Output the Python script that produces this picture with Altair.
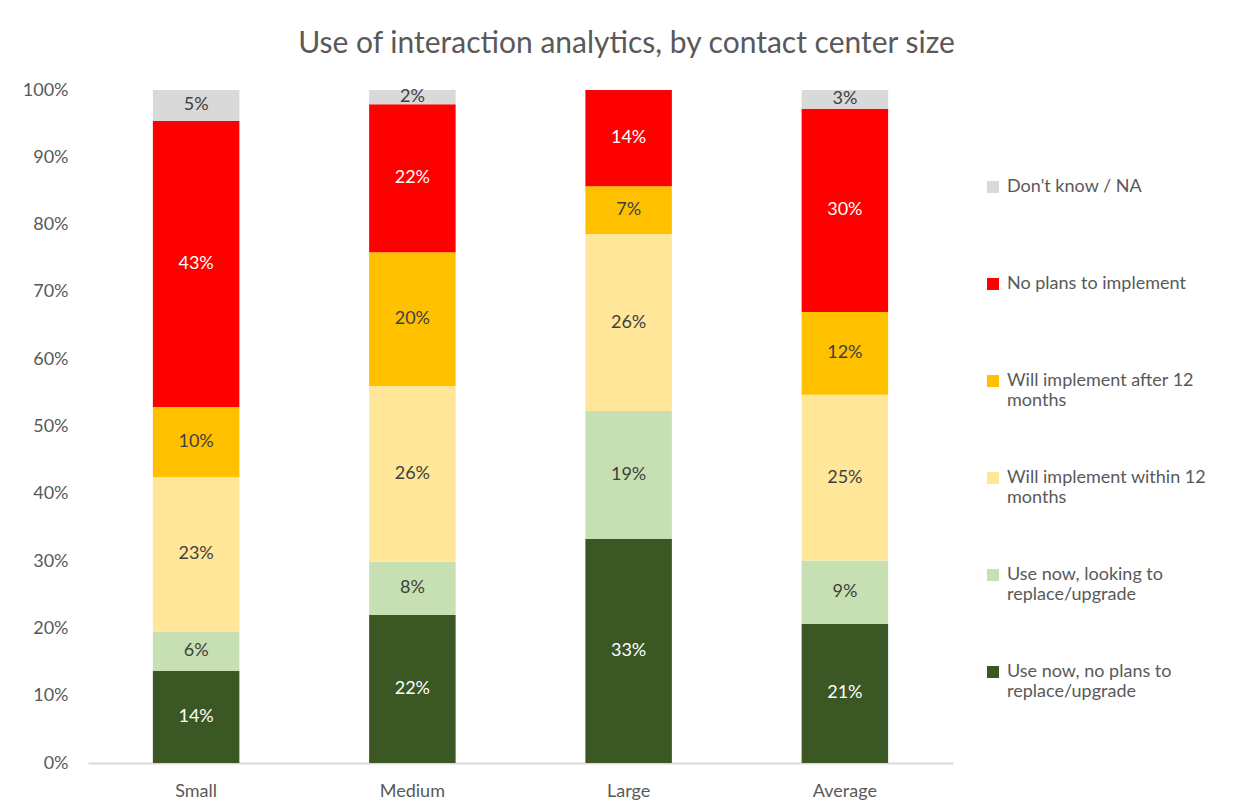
import altair as alt
import pandas as pd
import json

categories = ["Small", "Medium", "Large", "Average"]
series_names = [
    "Use now, no plans to replace/upgrade",
    "Use now, looking to replace/upgrade",
    "Will implement within 12 months",
    "Will implement after 12 months",
    "No plans to implement",
    "Don't know / NA",
]
use_no_plans = [13.7, 22.0, 33.3, 20.7]
use_replace = [5.8, 7.9, 19.0, 9.4]
within_12 = [23.0, 26.1, 26.3, 24.6]
after_12 = [10.4, 19.9, 7.1, 12.3]
no_plans = [42.5, 22.0, 14.3, 30.2]
dont_know = [4.6, 2.1, 0.0, 2.8]
colors = ["#3A5724", "#C6E0B4", "#FFE699", "#FFC000", "#FF0000", "#D9D9D9"]
label_colors = ["white", "#404040", "#404040", "#404040", "white", "#404040"]
legend_lines = {
    "Don't know / NA": ["Don't know / NA", " "],
    "No plans to implement": ["No plans to implement", " "],
    "Will implement after 12 months": ["Will implement after 12", "months"],
    "Will implement within 12 months": ["Will implement within 12", "months"],
    "Use now, looking to replace/upgrade": ["Use now, looking to", "replace/upgrade"],
    "Use now, no plans to replace/upgrade": ["Use now, no plans to", "replace/upgrade"],
}

all_values = [use_no_plans, use_replace, within_12, after_12, no_plans, dont_know]
rows = []
for si, (name, vals) in enumerate(zip(series_names, all_values)):
    for ci, cat in enumerate(categories):
        rows.append({"cat": cat, "series": name, "value": vals[ci], "order": si,
                     "lc": label_colors[si]})
df = pd.DataFrame(rows)

font = "Lato"
grey = "#595959"
fs = 18

expr = "datum.label"
for k, v in legend_lines.items():
    expr = f"datum.label == {json.dumps(k)} ? {json.dumps(v)} : ({expr})"

color_scale = alt.Scale(domain=series_names[::-1], range=colors[::-1])

base = alt.Chart(df).transform_stack(
    stack="value", groupby=["cat"], as_=["y0", "y1"], sort=[alt.SortField("order", "ascending")]
).transform_calculate(ymid="(datum.y0 + datum.y1) / 2")

x_enc = alt.X("cat:N", sort=categories, title=None,
              scale=alt.Scale(paddingInner=0.6, paddingOuter=0.3),
              axis=alt.Axis(labelAngle=0, ticks=False, domainColor="#D9D9D9", domainWidth=2,
                            labelFont=font, labelFontSize=fs, labelColor=grey, labelPadding=19))

bars = base.mark_bar().encode(
    x=x_enc,
    y=alt.Y("y0:Q", scale=alt.Scale(domain=[0, 100]), title=None,
            axis=alt.Axis(values=list(range(0, 101, 10)), labelExpr="datum.value + '%'",
                          grid=False, ticks=False, domain=False, labelFont=font,
                          labelFontSize=fs, labelColor=grey, labelPadding=20)),
    y2="y1:Q",
    color=alt.Color("series:N", scale=color_scale, sort=series_names[::-1], title=None,
                    legend=alt.Legend(orient="none", legendX=896, legendY=88,
                                      labelExpr=expr, labelFont=font, labelFontSize=fs,
                                      labelColor=grey, symbolType="square", symbolSize=144,
                                      symbolStrokeWidth=0, rowPadding=59, labelOffset=5,
                                      labelLimit=300)),
)

labels = base.transform_filter("datum.value > 0").transform_calculate(
    txt="format(datum.value, '.0f') + '%'"
).mark_text(font=font, fontSize=fs).encode(
    x=alt.X("cat:N", sort=categories),
    y=alt.Y("ymid:Q"),
    text="txt:N",
    color=alt.Color("lc:N", scale=None),
)

chart = alt.layer(bars, labels).properties(
    width=865, height=673,
    title=alt.TitleParams("Use of interaction analytics, by contact center size",
                          font=font, fontSize=30, fontWeight="normal", color=grey,
                          anchor="middle", dx=106, offset=22),
    autosize=alt.AutoSizeParams(type="none"),
    padding={"left": 80, "top": 82, "right": 270, "bottom": 40},
).configure_view(stroke=None)

chart.save("out.html", embed_options={"renderer": "svg", "actions": False})
